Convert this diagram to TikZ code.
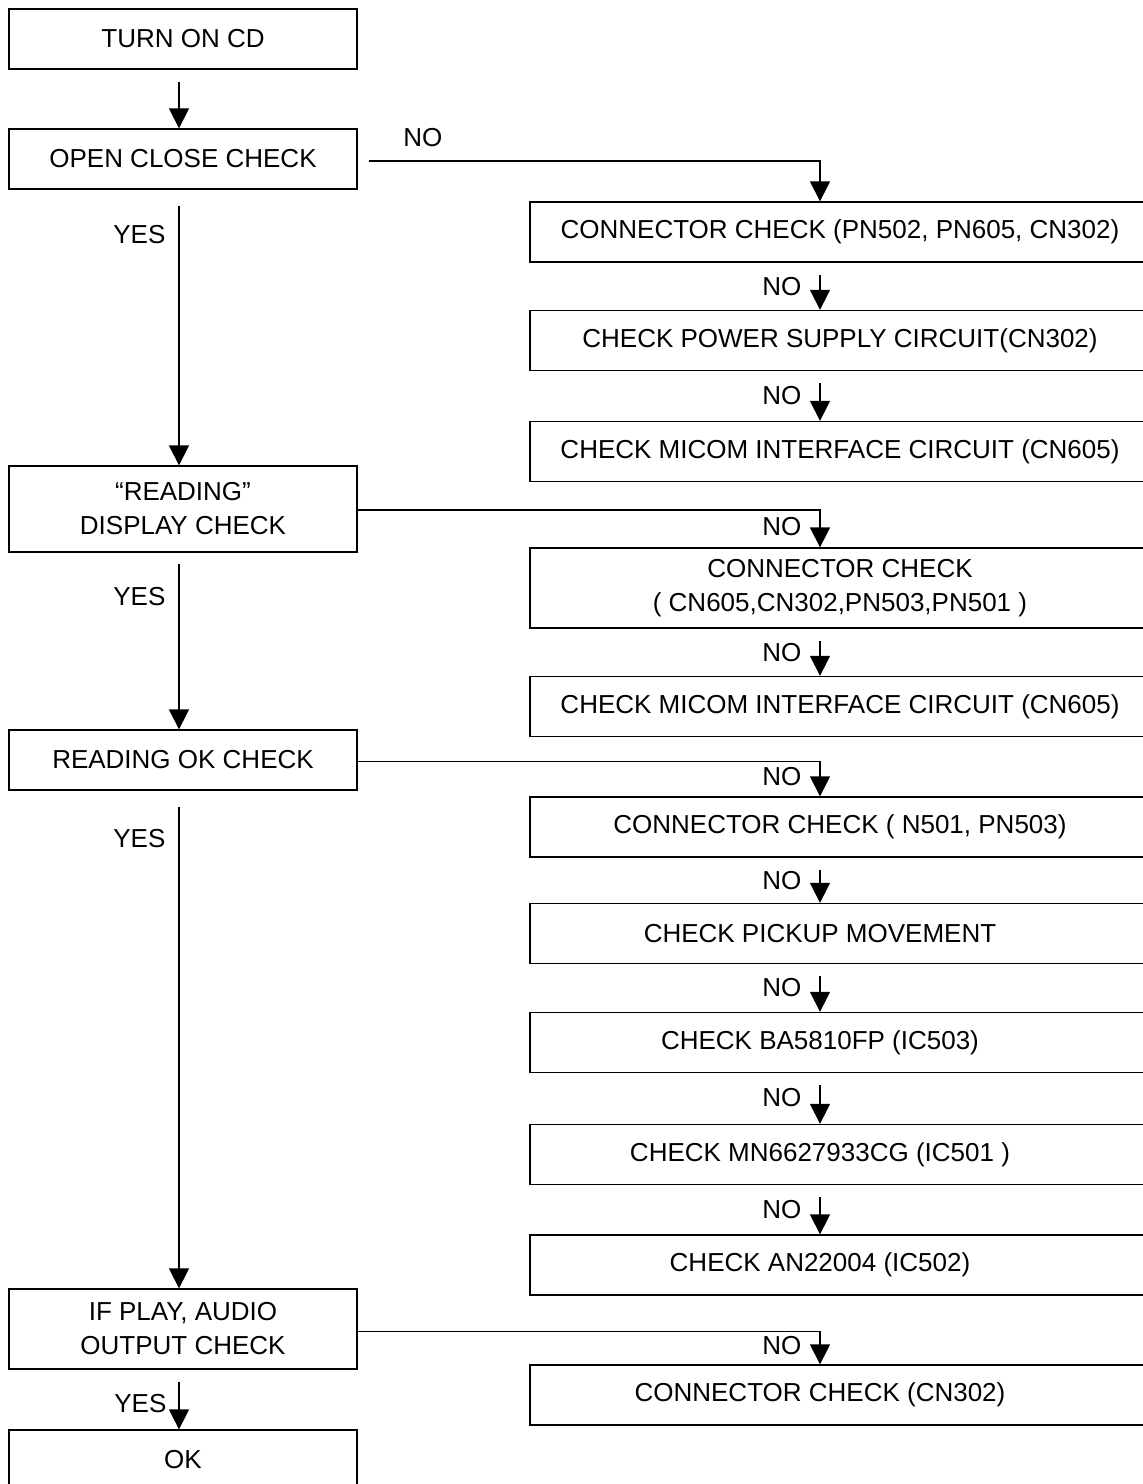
\documentclass[tikz,border=0pt]{standalone}
\usepackage{fontspec}
\setmainfont{Liberation Sans}
\usetikzlibrary{arrows.meta}

\begin{document}
\begin{tikzpicture}[x=1pt,y=-1pt,->,>={Triangle[width=20pt,length=20pt]},
  line width=1.3pt,
  main node/.style={rectangle,draw,font=\fontsize{26}{34}\selectfont,
    align=center,minimum height=60pt,inner sep=0pt},
  left node/.style={main node,minimum width=348pt},
  right node/.style={main node,minimum width=620pt},
  off node/.style={right node,execute at begin node=\hspace*{-40pt}},
  tag/.style={font=\fontsize{26}{31}\selectfont,inner sep=0pt}]

  \useasboundingbox (0,0) rectangle (1143,1484);

  % main column
  \node[left node] (Turn) at (183,39) {TURN ON CD};
  \node[left node] (Open) at (183,159) {OPEN CLOSE CHECK};
  \node[left node,minimum height=86pt] (Display) at (183,509) {“READING”\\DISPLAY CHECK};
  \node[left node] (ReadOk) at (183,760) {READING OK CHECK};
  \node[left node,minimum height=80pt] (Play) at (183,1329) {IF PLAY, AUDIO\\OUTPUT CHECK};
  \node[left node] (Ok) at (183,1460) {OK};

  % checks on the right
  \node[right node] (ConnA) at (840,232) {CONNECTOR CHECK (PN502, PN605, CN302)};
  \node[right node] (Power) at (840,340.5) {CHECK POWER SUPPLY CIRCUIT(CN302)};
  \node[right node] (MicomA) at (840,451.5) {CHECK MICOM INTERFACE CIRCUIT (CN605)};
  \node[right node,minimum height=80pt] (ConnB) at (840,588) {CONNECTOR CHECK\\( CN605,CN302,PN503,PN501 )};
  \node[right node] (MicomB) at (840,706.5) {CHECK MICOM INTERFACE CIRCUIT (CN605)};
  \node[right node] (ConnC) at (840,827) {CONNECTOR CHECK ( N501, PN503)};
  \node[off node] (Pickup) at (840,933.5) {CHECK PICKUP MOVEMENT};
  \node[off node] (BA) at (840,1042.5) {CHECK BA5810FP (IC503)};
  \node[off node] (MN) at (840,1154.5) {CHECK MN6627933CG (IC501 )};
  \node[off node] (AN) at (840,1265) {CHECK AN22004 (IC502)};
  \node[off node] (ConnD) at (840,1395) {CONNECTOR CHECK (CN302)};

  \path[every node/.style={tag}]
    ([xshift=-4pt,yshift=-12pt]Turn.south) edge ([xshift=-4pt]Open.north)
    ([xshift=-4pt,yshift=-16pt]Open.south) edge node[pos=0.11,left=13pt] {YES} ([xshift=-4pt]Display.north)
    ([xshift=-4pt,yshift=-11pt]Display.south) edge node[pos=0.2,left=13pt] {YES} ([xshift=-4pt]ReadOk.north)
    ([xshift=-4pt,yshift=-16pt]ReadOk.south) edge node[pos=0.066,left=13pt] {YES} ([xshift=-4pt]Play.north)
    ([xshift=-4pt,yshift=-12pt]Play.south) edge node[pos=0.45,left=12pt] {YES} ([xshift=-4pt]Ok.north)
    ([xshift=-20pt,yshift=-12pt]ConnA.south) edge node[pos=0.33,left=18pt] {NO} ([xshift=-20pt]Power.north)
    ([xshift=-20pt,yshift=-12pt]Power.south) edge node[pos=0.33,left=18pt] {NO} ([xshift=-20pt]MicomA.north)
    ([xshift=-20pt,yshift=-12pt]ConnB.south) edge node[pos=0.33,left=18pt] {NO} ([xshift=-20pt]MicomB.north)
    ([xshift=-20pt,yshift=-12pt]ConnC.south) edge node[pos=0.33,left=18pt] {NO} ([xshift=-20pt]Pickup.north)
    ([xshift=-20pt,yshift=-12pt]Pickup.south) edge node[pos=0.33,left=18pt] {NO} ([xshift=-20pt]BA.north)
    ([xshift=-20pt,yshift=-12pt]BA.south) edge node[pos=0.33,left=18pt] {NO} ([xshift=-20pt]MN.north)
    ([xshift=-20pt,yshift=-12pt]MN.south) edge node[pos=0.33,left=18pt] {NO} ([xshift=-20pt]AN.north)
    ;

  % NO branches
  \draw ([xshift=11pt,yshift=-2pt]Open.east) -| node[pos=0.06,above=14pt,tag] {NO} ([xshift=-20pt]ConnA.north);
  \draw ([yshift=-1pt]Display.east) -| node[pos=0.72,left=18pt,tag] {NO} ([xshift=-20pt]ConnB.north);
  \draw ([yshift=-1.5pt]ReadOk.east) -| node[pos=0.72,left=18pt,tag] {NO} ([xshift=-20pt]ConnC.north);
  \draw ([yshift=-2.5pt]Play.east) -| node[pos=0.72,left=18pt,tag] {NO} ([xshift=-20pt]ConnD.north);
\end{tikzpicture}
\end{document}
